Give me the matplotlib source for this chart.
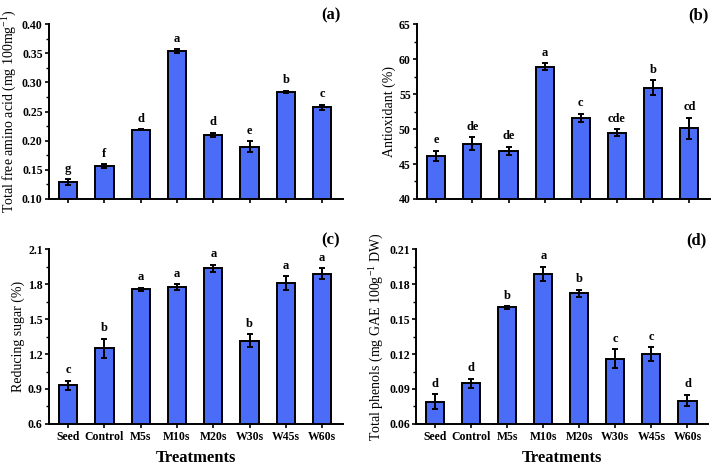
import matplotlib
matplotlib.use("Agg")
import matplotlib.pyplot as plt
from matplotlib.ticker import MultipleLocator, AutoMinorLocator

plt.rcParams['font.family'] = ['Liberation Serif', 'DejaVu Serif']
plt.rcParams['mathtext.fontset'] = 'custom'
plt.rcParams['mathtext.rm'] = 'Liberation Serif'
plt.rcParams['mathtext.it'] = 'Liberation Serif:italic'
plt.rcParams['mathtext.bf'] = 'Liberation Serif:bold'

categories = ["Seed", "Control", "M5s", "M10s", "M20s", "W30s", "W45s", "W60s"]

amino = [0.129, 0.157, 0.219, 0.354, 0.210, 0.190, 0.284, 0.257]
amino_err = [0.005, 0.003, 0.001, 0.003, 0.004, 0.009, 0.002, 0.005]
amino_let = ["g", "f", "d", "a", "d", "e", "b", "c"]

antiox = [46.2, 47.9, 46.9, 58.9, 51.6, 49.5, 55.9, 50.1]
antiox_err = [0.7, 0.9, 0.6, 0.5, 0.6, 0.5, 1.1, 1.5]
antiox_let = ["e", "de", "de", "a", "c", "cde", "b", "cd"]

sugar = [0.93, 1.25, 1.755, 1.775, 1.935, 1.315, 1.805, 1.89]
sugar_err = [0.04, 0.08, 0.015, 0.025, 0.03, 0.055, 0.06, 0.045]
sugar_let = ["c", "b", "a", "a", "a", "b", "a", "a"]

phenol = [0.079, 0.095, 0.160, 0.189, 0.172, 0.116, 0.120, 0.080]
phenol_err = [0.0065, 0.004, 0.001, 0.006, 0.003, 0.008, 0.006, 0.005]
phenol_let = ["d", "d", "b", "a", "b", "c", "c", "d"]

bar_color = "#4a6cf7"

fig = plt.figure(figsize=(7.17, 4.71), dpi=100)

panels = [
    dict(rect=[0.0683, 0.5775, 0.4097, 0.3715], vals=amino, err=amino_err, let=amino_let,
         ylim=(0.10, 0.40), step=0.05, fmt="{:.2f}", tag="(a)",
         ylabel=r"Total free amino acid (mg 100mg$^{-1}$)", xt=False),
    dict(rect=[0.5816, 0.5775, 0.4086, 0.3715], vals=antiox, err=antiox_err, let=antiox_let,
         ylim=(40, 65), step=5, fmt="{:.0f}", tag="(b)",
         ylabel="Antioxidant (%)", xt=False),
    dict(rect=[0.0683, 0.0998, 0.4097, 0.3715], vals=sugar, err=sugar_err, let=sugar_let,
         ylim=(0.6, 2.1), step=0.3, fmt="{:.1f}", tag="(c)",
         ylabel="Reducing sugar (%)", xt=True),
    dict(rect=[0.5802, 0.0998, 0.4073, 0.3715], vals=phenol, err=phenol_err, let=phenol_let,
         ylim=(0.06, 0.21), step=0.03, fmt="{:.2f}", tag="(d)",
         ylabel=r"Total phenols (mg GAE 100g$^{-1}$ DW)", xt=True),
]

x = list(range(len(categories)))
for p in panels:
    ax = fig.add_axes(p["rect"])
    ax.bar(x, p["vals"], width=0.5, color=bar_color, edgecolor="black", linewidth=1.4,
           zorder=2)
    ax.errorbar(x, p["vals"], yerr=p["err"], fmt="none", ecolor="black",
                elinewidth=1.4, capsize=2.5, capthick=1.4, zorder=3)
    lo, hi = p["ylim"]
    ax.set_ylim(lo, hi)
    ax.set_xlim(-0.53, 7.57)
    span = hi - lo
    for xi, v, e, l in zip(x, p["vals"], p["err"], p["let"]):
        ax.text(xi, v + e + span * 0.025, l, ha="center", va="bottom",
                fontsize=9, fontweight="bold")
    ax.yaxis.set_major_locator(MultipleLocator(p["step"]))
    ax.yaxis.set_minor_locator(AutoMinorLocator(2))
    ax.set_yticklabels([p["fmt"].format(t) for t in ax.get_yticks()])
    ax.set_xticks(x)
    if p["xt"]:
        ax.set_xticklabels(categories, fontsize=8.5, fontweight="bold")
        ax.text(0.5, -0.195, "Treatments", transform=ax.transAxes, ha="center",
                va="center", fontsize=12, fontweight="bold")
    else:
        ax.set_xticklabels([])
    for lab in ax.get_yticklabels():
        lab.set_fontweight("bold")
        lab.set_fontsize(8.5)
    ax.set_ylabel(p["ylabel"], fontsize=10, labelpad=2)
    ax.spines["top"].set_visible(False)
    ax.spines["right"].set_visible(False)
    ax.spines["left"].set_linewidth(1.4)
    ax.spines["bottom"].set_linewidth(1.4)
    ax.tick_params(axis="y", which="major", direction="out", length=3, width=1.2, pad=1.5)
    ax.tick_params(axis="y", which="minor", direction="out", length=2, width=1.0)
    ax.tick_params(axis="x", which="major", direction="out", length=3, width=1.2, pad=2)
    ax.text(0.96, 1.05, p["tag"], transform=ax.transAxes, ha="center", va="center",
            fontsize=12, fontweight="bold")

fig.savefig("out.png", dpi=100)
